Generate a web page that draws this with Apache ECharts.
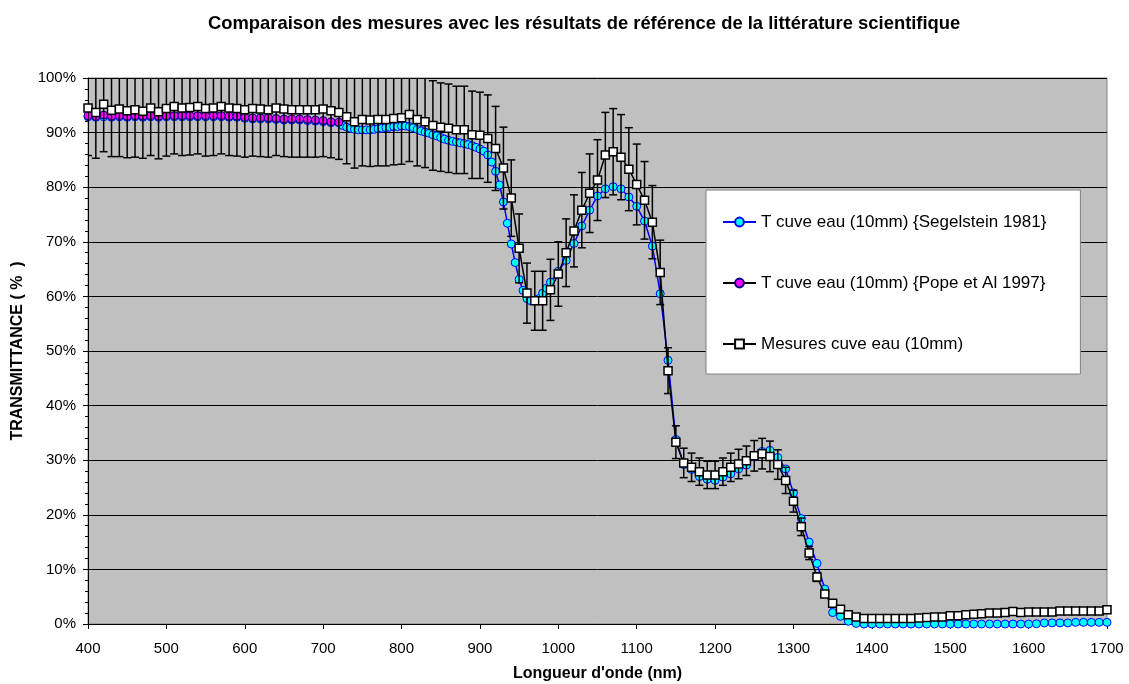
<!DOCTYPE html>
<html>
<head>
<meta charset="utf-8">
<script src="https://cdn.jsdelivr.net/npm/echarts@6/dist/echarts.min.js"></script>
<style>
html, body { margin: 0; padding: 0; background: #fff; }
#main { width: 1129px; height: 684px; }
</style>
</head>
<body>
<div id="main"></div>
<script>
// noms des séries
var nomSeg = 'T cuve eau (10mm) {Segelstein 1981}';
var nomPope = 'T cuve eau (10mm) {Pope et Al 1997}';
var nomMes = 'Mesures cuve eau (10mm)';

function range(a, b, pas) {
    var r = [];
    for (var v = a; v <= b; v += pas) r.push(v);
    return r;
}

// Segelstein 1981 : 400-710 tous les 10 nm, 720-990 tous les 5 nm, 1000-1700 tous les 10 nm
var segWl = range(400, 710, 10).concat(range(720, 990, 5), range(1000, 1700, 10));
var segT = [
    92.9, 92.8, 92.9, 92.8, 92.9, 92.8, 92.9, 92.8, 92.9, 92.8,
    92.9, 92.9, 92.9, 92.9, 92.9, 92.9, 92.9, 92.9, 92.8, 92.8,
    92.6, 92.5, 92.5, 92.5, 92.4, 92.3, 92.3, 92.3, 92.2, 92.1,
    92.0, 91.8,
    91.8, 91.3, 91.0, 90.8, 90.6, 90.5, 90.5, 90.5, 90.5, 90.6,
    90.7, 90.8, 90.9, 91.0, 91.1, 91.1, 91.2, 91.2, 91.1, 90.9,
    90.6, 90.3, 90.1, 89.9, 89.6, 89.4, 89.1, 88.8, 88.6, 88.4,
    88.3, 88.1, 88.0, 87.8, 87.6, 87.3, 87.0, 86.6, 85.9, 84.6,
    82.9, 80.4, 77.3, 73.4, 69.6, 66.2, 63.1, 61.1, 59.6, 59.2,
    59.2, 59.6, 60.6, 61.5, 62.6,
    64.6, 66.6, 69.7, 72.9, 75.8, 78.4, 79.7, 80.1, 79.7, 78.2,
    76.5, 73.8, 69.2, 60.5, 48.3, 33.8, 29.2, 28.3, 27.0, 26.5,
    26.3, 26.9, 27.5, 28.4, 29.1, 30.6, 31.6, 31.8, 30.5, 28.4,
    24.0, 19.3, 15.0, 11.1, 6.4, 2.1, 1.4, 0.5, 0.1, 0.0,
    0.0, 0.0, 0.0, 0.0, 0.0, 0.0, 0.0, 0.0, 0.0, 0.0,
    0.0, 0.0, 0.0, 0.0, 0.0, 0.0, 0.0, 0.0, 0.0, 0.0,
    0.0, 0.05, 0.2, 0.2, 0.2, 0.2, 0.3, 0.3, 0.3, 0.3,
    0.3
];

// Pope et Al 1997 : 400-720 tous les 10 nm
var popeWl = range(400, 720, 10);
var popeT = [
    93.1, 93.0, 93.2, 93.0, 93.1, 93.0, 93.1, 93.0, 93.1, 93.0,
    93.1, 93.1, 93.1, 93.1, 93.1, 93.1, 93.1, 93.1, 93.0, 93.0,
    92.8, 92.7, 92.7, 92.7, 92.6, 92.5, 92.5, 92.5, 92.4, 92.3,
    92.2, 92.0, 91.9
];

// mesures : 400-1700 tous les 10 nm
var mesWl = range(400, 1700, 10);
var mesT = [
    94.5, 93.7, 95.2, 94.1, 94.3, 94.0, 94.2, 93.9, 94.5, 93.8,
    94.4, 94.8, 94.5, 94.6, 94.8, 94.4, 94.5, 94.8, 94.5, 94.4,
    94.2, 94.4, 94.3, 94.2, 94.5, 94.3, 94.2, 94.2, 94.2, 94.2,
    94.3, 94.0, 93.7, 92.9, 92.0, 92.4, 92.3, 92.4, 92.4, 92.6,
    92.7, 93.3, 92.4, 92.0, 91.3, 91.0, 90.8, 90.5, 90.5, 89.6,
    89.5, 88.9, 87.1, 83.5, 78.0, 68.8, 60.6, 59.2, 59.2, 61.2,
    64.1, 68.0, 72.0, 75.8, 78.9, 81.3, 85.9, 86.5, 85.5, 83.3,
    80.5, 77.6, 73.6, 64.4, 46.4, 33.3, 29.5, 28.7, 27.9, 27.3,
    27.3, 27.9, 28.7, 29.3, 29.9, 30.8, 31.2, 30.7, 29.2, 26.3,
    22.5, 17.8, 13.0, 8.6, 5.5, 3.8, 2.7, 1.7, 1.3, 1.0,
    1.0, 1.0, 1.0, 1.0, 1.0, 1.0, 1.1, 1.2, 1.3, 1.3,
    1.5, 1.5, 1.7, 1.8, 1.9, 2.0, 2.0, 2.1, 2.3, 2.1,
    2.2, 2.2, 2.2, 2.2, 2.4, 2.4, 2.4, 2.4, 2.4, 2.4,
    2.6
];
// barres d'erreur (+/-)
var mesErr = [
    8.7, 8.4, 8.7, 8.5, 8.7, 8.6, 8.7, 8.6, 8.7, 8.6,
    8.7, 8.7, 8.7, 8.7, 8.7, 8.7, 8.7, 8.7, 8.7, 8.7,
    8.7, 8.7, 8.7, 8.7, 8.7, 8.7, 8.7, 8.7, 8.7, 8.7,
    8.7, 8.6, 8.6, 8.6, 8.5, 8.5, 8.5, 8.5, 8.5, 8.5,
    8.5, 8.6, 8.5, 8.4, 8.2, 8.1, 8.1, 8.0, 8.0, 8.0,
    7.9, 8.0, 7.7, 7.5, 7.0, 6.3, 5.5, 5.4, 5.4, 5.6,
    5.9, 6.2, 6.6, 6.9, 7.2, 7.4, 7.8, 7.9, 7.8, 7.6,
    7.4, 7.1, 6.7, 5.9, 4.2, 3.0, 2.7, 2.6, 2.5, 2.5,
    2.5, 2.5, 2.6, 2.7, 2.7, 2.8, 2.8, 2.8, 2.7, 2.4,
    2.0, 1.6, 1.2, 0.8, 0.5, 0.35, 0.25, 0.15, 0.1, 0.1,
    0.1, 0.1, 0.1, 0.1, 0.1, 0.1, 0.1, 0.1, 0.1, 0.1,
    0.1, 0.1, 0.1, 0.1, 0.1, 0.2, 0.2, 0.2, 0.2, 0.2,
    0.2, 0.2, 0.2, 0.2, 0.2, 0.2, 0.2, 0.2, 0.2, 0.2,
    0.2
];

function paires(xs, ys) {
    return xs.map(function (x, i) { return [x, ys[i]]; });
}

var errData = mesWl.map(function (w, i) {
    return [w, mesT[i] - mesErr[i], mesT[i] + mesErr[i]];
});

function renderErr(params, api) {
    var x = api.value(0);
    var bas = api.coord([x, api.value(1)]);
    var haut = api.coord([x, api.value(2)]);
    var w = 4;
    var st = {stroke: '#000', lineWidth: 1.5};
    return {
        type: 'group',
        children: [
            {type: 'line', shape: {x1: bas[0], y1: bas[1], x2: haut[0], y2: haut[1]}, style: st},
            {type: 'line', shape: {x1: bas[0] - w, y1: bas[1], x2: bas[0] + w, y2: bas[1]}, style: st},
            {type: 'line', shape: {x1: haut[0] - w, y1: haut[1], x2: haut[0] + w, y2: haut[1]}, style: st}
        ]
    };
}

var police = 'Arial, "Liberation Sans", sans-serif';

var option = {
    animation: false,
    title: {
        text: 'Comparaison des mesures avec les résultats de référence de la littérature scientifique',
        left: 203,
        top: 10,
        textStyle: {fontFamily: police, fontSize: 18.4, fontWeight: 'bold', color: '#000'}
    },
    legend: {
        orient: 'vertical',
        left: 706,
        top: 190,
        data: [nomSeg, nomPope, nomMes],
        backgroundColor: '#fff',
        borderColor: '#808080',
        borderWidth: 1,
        borderRadius: 0,
        padding: [23, 34, 21, 16],
        itemGap: 43,
        itemWidth: 33,
        itemHeight: 11,
        textStyle: {fontFamily: police, fontSize: 17, lineHeight: 18, color: '#000'}
    },
    grid: {
        left: 88,
        right: 22,
        top: 78,
        bottom: 60,
        show: true,
        backgroundColor: '#C0C0C0',
        borderColor: '#808080',
        borderWidth: 1,
        outerBoundsMode: 'none'
    },
    xAxis: {
        type: 'value',
        min: 400,
        max: 1700,
        interval: 100,
        name: "Longueur d'onde (nm)",
        nameLocation: 'middle',
        nameGap: 42,
        nameTextStyle: {fontFamily: police, fontSize: 16, fontWeight: 'bold', color: '#000'},
        axisLine: {lineStyle: {color: '#000', width: 1}},
        axisTick: {show: true, inside: false, length: 5, lineStyle: {color: '#000'}},
        axisLabel: {margin: 17, fontFamily: police, fontSize: 15, color: '#000',
            formatter: function (v) { return String(v); }},
        splitLine: {show: false}
    },
    yAxis: {
        type: 'value',
        min: 0,
        max: 100,
        interval: 10,
        name: 'TRANSMITTANCE ( %  )',
        nameLocation: 'middle',
        nameGap: 62,
        nameRotate: 90,
        nameTextStyle: {fontFamily: police, fontSize: 16, fontWeight: 'bold', color: '#000'},
        axisLine: {show: true, lineStyle: {color: '#000', width: 1}},
        axisTick: {show: true, inside: false, length: 5, lineStyle: {color: '#000'}},
        minorTick: {show: true, splitNumber: 5, length: 3, lineStyle: {color: '#000'}},
        axisLabel: {margin: 12, fontFamily: police, fontSize: 15, color: '#000', formatter: '{value}%'},
        splitLine: {show: true, lineStyle: {color: '#000', width: 1}}
    },
    series: [
        {
            name: nomSeg,
            type: 'line',
            data: paires(segWl, segT),
            symbol: 'circle',
            symbolSize: 8,
            lineStyle: {color: '#0000FF', width: 1.5},
            itemStyle: {color: '#00FFFF', borderColor: '#0000FF', borderWidth: 1},
            z: 2
        },
        {
            name: nomPope,
            type: 'line',
            data: paires(popeWl, popeT),
            symbol: 'circle',
            symbolSize: 8,
            lineStyle: {color: '#000', width: 1.5},
            itemStyle: {color: '#FF00FF', borderColor: '#000080', borderWidth: 1},
            z: 3
        },
        {
            name: 'erreur',
            type: 'custom',
            renderItem: renderErr,
            data: errData,
            encode: {x: 0, y: [1, 2]},
            clip: true,
            silent: true,
            z: 4
        },
        {
            name: nomMes,
            type: 'line',
            data: paires(mesWl, mesT),
            symbol: 'rect',
            symbolSize: 8,
            lineStyle: {color: '#000', width: 1.5},
            itemStyle: {color: '#fff', borderColor: '#000', borderWidth: 1.5},
            z: 5
        }
    ]
};

var myChart = echarts.init(document.getElementById('main'));
myChart.setOption(option);
</script>
</body>
</html>
